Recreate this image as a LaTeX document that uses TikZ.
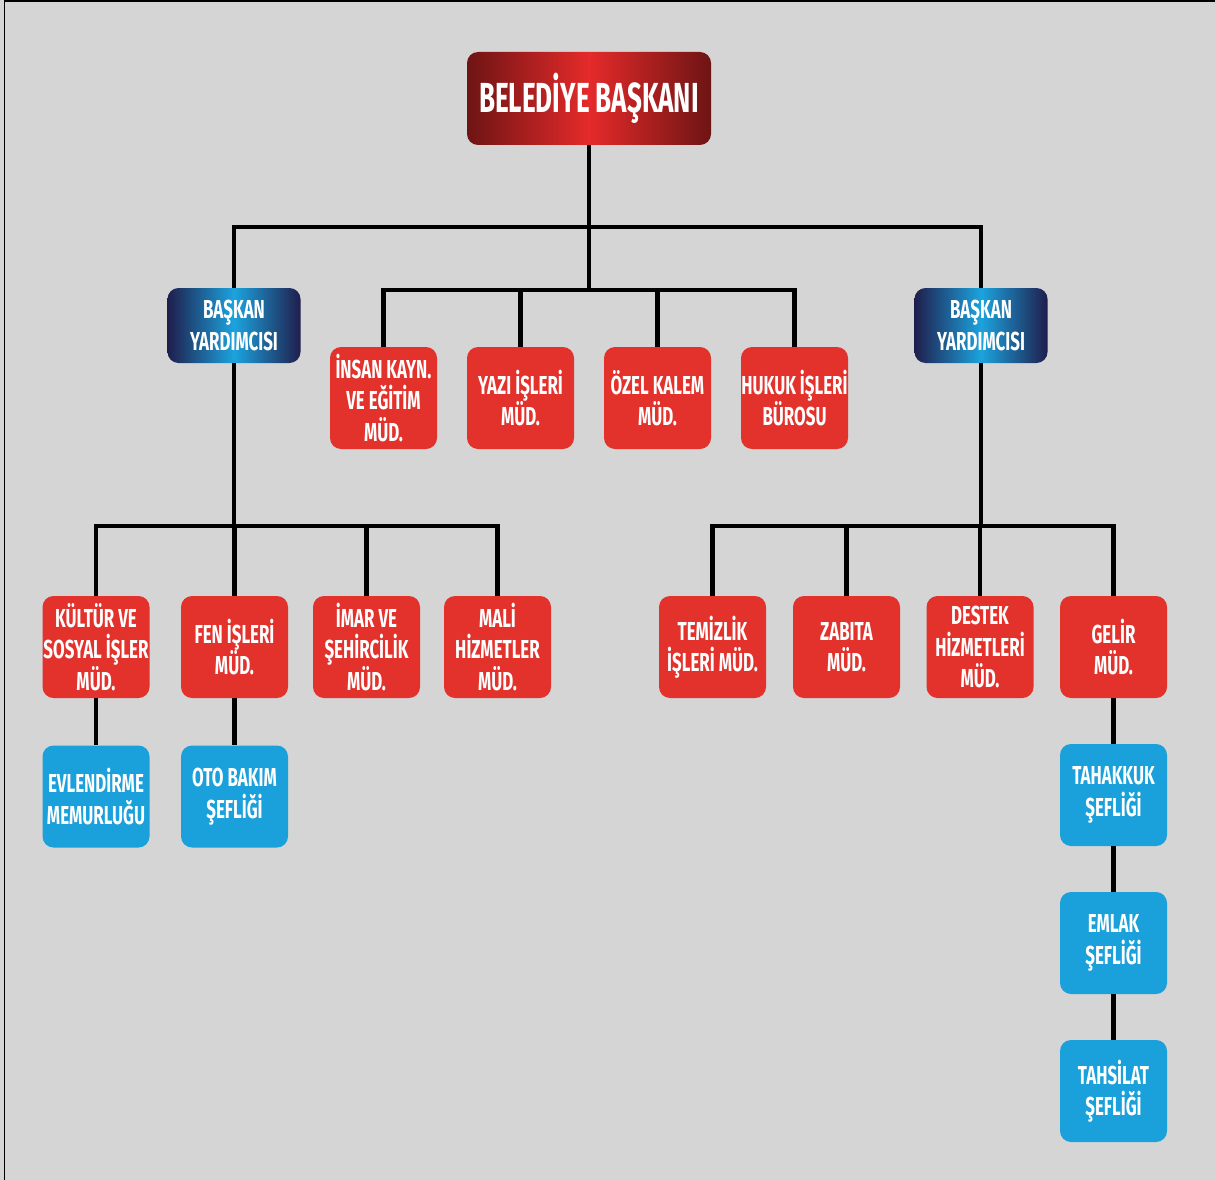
\documentclass[tikz,border=0pt]{standalone}
\usepackage{fontspec}
\newfontfamily\cond{Fira Sans}[FakeStretch=0.65]
\newfontfamily\condt{Fira Sans}[FakeStretch=0.62]
\definecolor{bg}{HTML}{D5D5D5}
\definecolor{boxred}{HTML}{E3322C}
\definecolor{boxblue}{HTML}{1AA0DA}
\definecolor{darkred}{HTML}{6E1414}
\definecolor{brightred}{HTML}{E52A2A}
\definecolor{navy}{HTML}{1F1E4C}
\definecolor{cyanmid}{HTML}{1CA3DE}
\begin{document}
\begin{tikzpicture}[x=1pt,y=-1pt,
  conn/.style={line width=4.5pt,black},
  basebox/.style={rounded corners=11pt,text=white,align=center,inner sep=0pt,
     font=\cond\bfseries\fontsize{26}{31.5}\selectfont},
  redbox/.style={basebox,fill=boxred,minimum width=107pt,minimum height=102pt},
  bluebox/.style={basebox,fill=boxblue,minimum width=107pt,minimum height=102pt},
  vpbox/.style={basebox,left color=navy,right color=navy,middle color=cyanmid,
     minimum width=133pt,minimum height=75pt},
  topbox/.style={basebox,left color=darkred,right color=darkred,middle color=brightred,
     minimum width=244pt,minimum height=93pt,font=\condt\bfseries\fontsize{42}{46}\selectfont}]
\fill[bg] (0,0) rectangle (1215,1180);
\useasboundingbox (0,0) rectangle (1215,1180);
\draw[line width=1.6pt] (4.5,1180) -- (4.5,0.8) -- (1215,0.8);

% junctions
\coordinate (j1) at (589,227);
\coordinate (j2) at (589,290);
\coordinate (j3) at (234,526);
\coordinate (j4) at (981,526);

\node[topbox] (bb) at (589,98.5) {BELEDİYE BAŞKANI};
\node[vpbox] (by1) at (234,325.5) {BAŞKAN\\YARDIMCISI};
\node[vpbox] (by2) at (981,325.5) {BAŞKAN\\YARDIMCISI};

\node[redbox] (ins) at (383.5,398) {İNSAN KAYN.\\VE EĞİTİM\\MÜD.};
\node[redbox] (yaz) at (520.5,398) {YAZI İŞLERİ\\MÜD.};
\node[redbox] (oze) at (657.5,398) {ÖZEL KALEM\\MÜD.};
\node[redbox] (huk) at (794.5,398) {HUKUK İŞLERİ\\BÜROSU};

\node[redbox] (kul) at (96,647) {KÜLTÜR VE\\SOSYAL İŞLER\\MÜD.};
\node[redbox] (fen) at (234.5,647) {FEN İŞLERİ\\MÜD.};
\node[redbox] (ima) at (366.5,647) {İMAR VE\\ŞEHİRCİLİK\\MÜD.};
\node[redbox] (mal) at (497.5,647) {MALİ\\HİZMETLER\\MÜD.};

\node[redbox] (tem) at (712.5,647) {TEMİZLİK\\İŞLERİ MÜD.};
\node[redbox] (zab) at (846.5,647) {ZABITA\\MÜD.};
\node[redbox] (des) at (980,647) {DESTEK\\HİZMETLERİ\\MÜD.};
\node[redbox] (gel) at (1113.5,647) {GELİR\\MÜD.};

\node[bluebox] (evl) at (96,796.5) {EVLENDİRME\\MEMURLUĞU};
\node[bluebox] (oto) at (234.5,796.5) {OTO BAKIM\\ŞEFLİĞİ};

\node[bluebox] (tah) at (1113.5,795) {TAHAKKUK\\ŞEFLİĞİ};
\node[bluebox] (eml) at (1113.5,943) {EMLAK\\ŞEFLİĞİ};
\node[bluebox] (tsl) at (1113.5,1091) {TAHSİLAT\\ŞEFLİĞİ};

\draw[conn] (bb.south) -- (j2);
\draw[conn] (by1.north) |- (j1) -| (by2.north);
\draw[conn] (ins.north) |- (j2) -| (huk.north);
\draw[conn] (yaz.north) -- (yaz.north |- j2);
\draw[conn] (oze.north) -- (oze.north |- j2);

\draw[conn] (by1.south) -- (j3);
\draw[conn] (kul.north) |- (j3) -| (mal.north);
\draw[conn] (fen.north) -- (fen.north |- j3);
\draw[conn] (ima.north) -- (ima.north |- j3);

\draw[conn] (by2.south) -- (j4);
\draw[conn] (tem.north) |- (j4) -| (gel.north);
\draw[conn] (zab.north) -- (zab.north |- j4);
\draw[conn] (des.north) -- (des.north |- j4);

\draw[conn] (kul.south) -- (evl.north);
\draw[conn] (fen.south) -- (oto.north);
\draw[conn] (gel.south) -- (tah.north);
\draw[conn] (tah.south) -- (eml.north);
\draw[conn] (eml.south) -- (tsl.north);
\end{tikzpicture}
\end{document}
